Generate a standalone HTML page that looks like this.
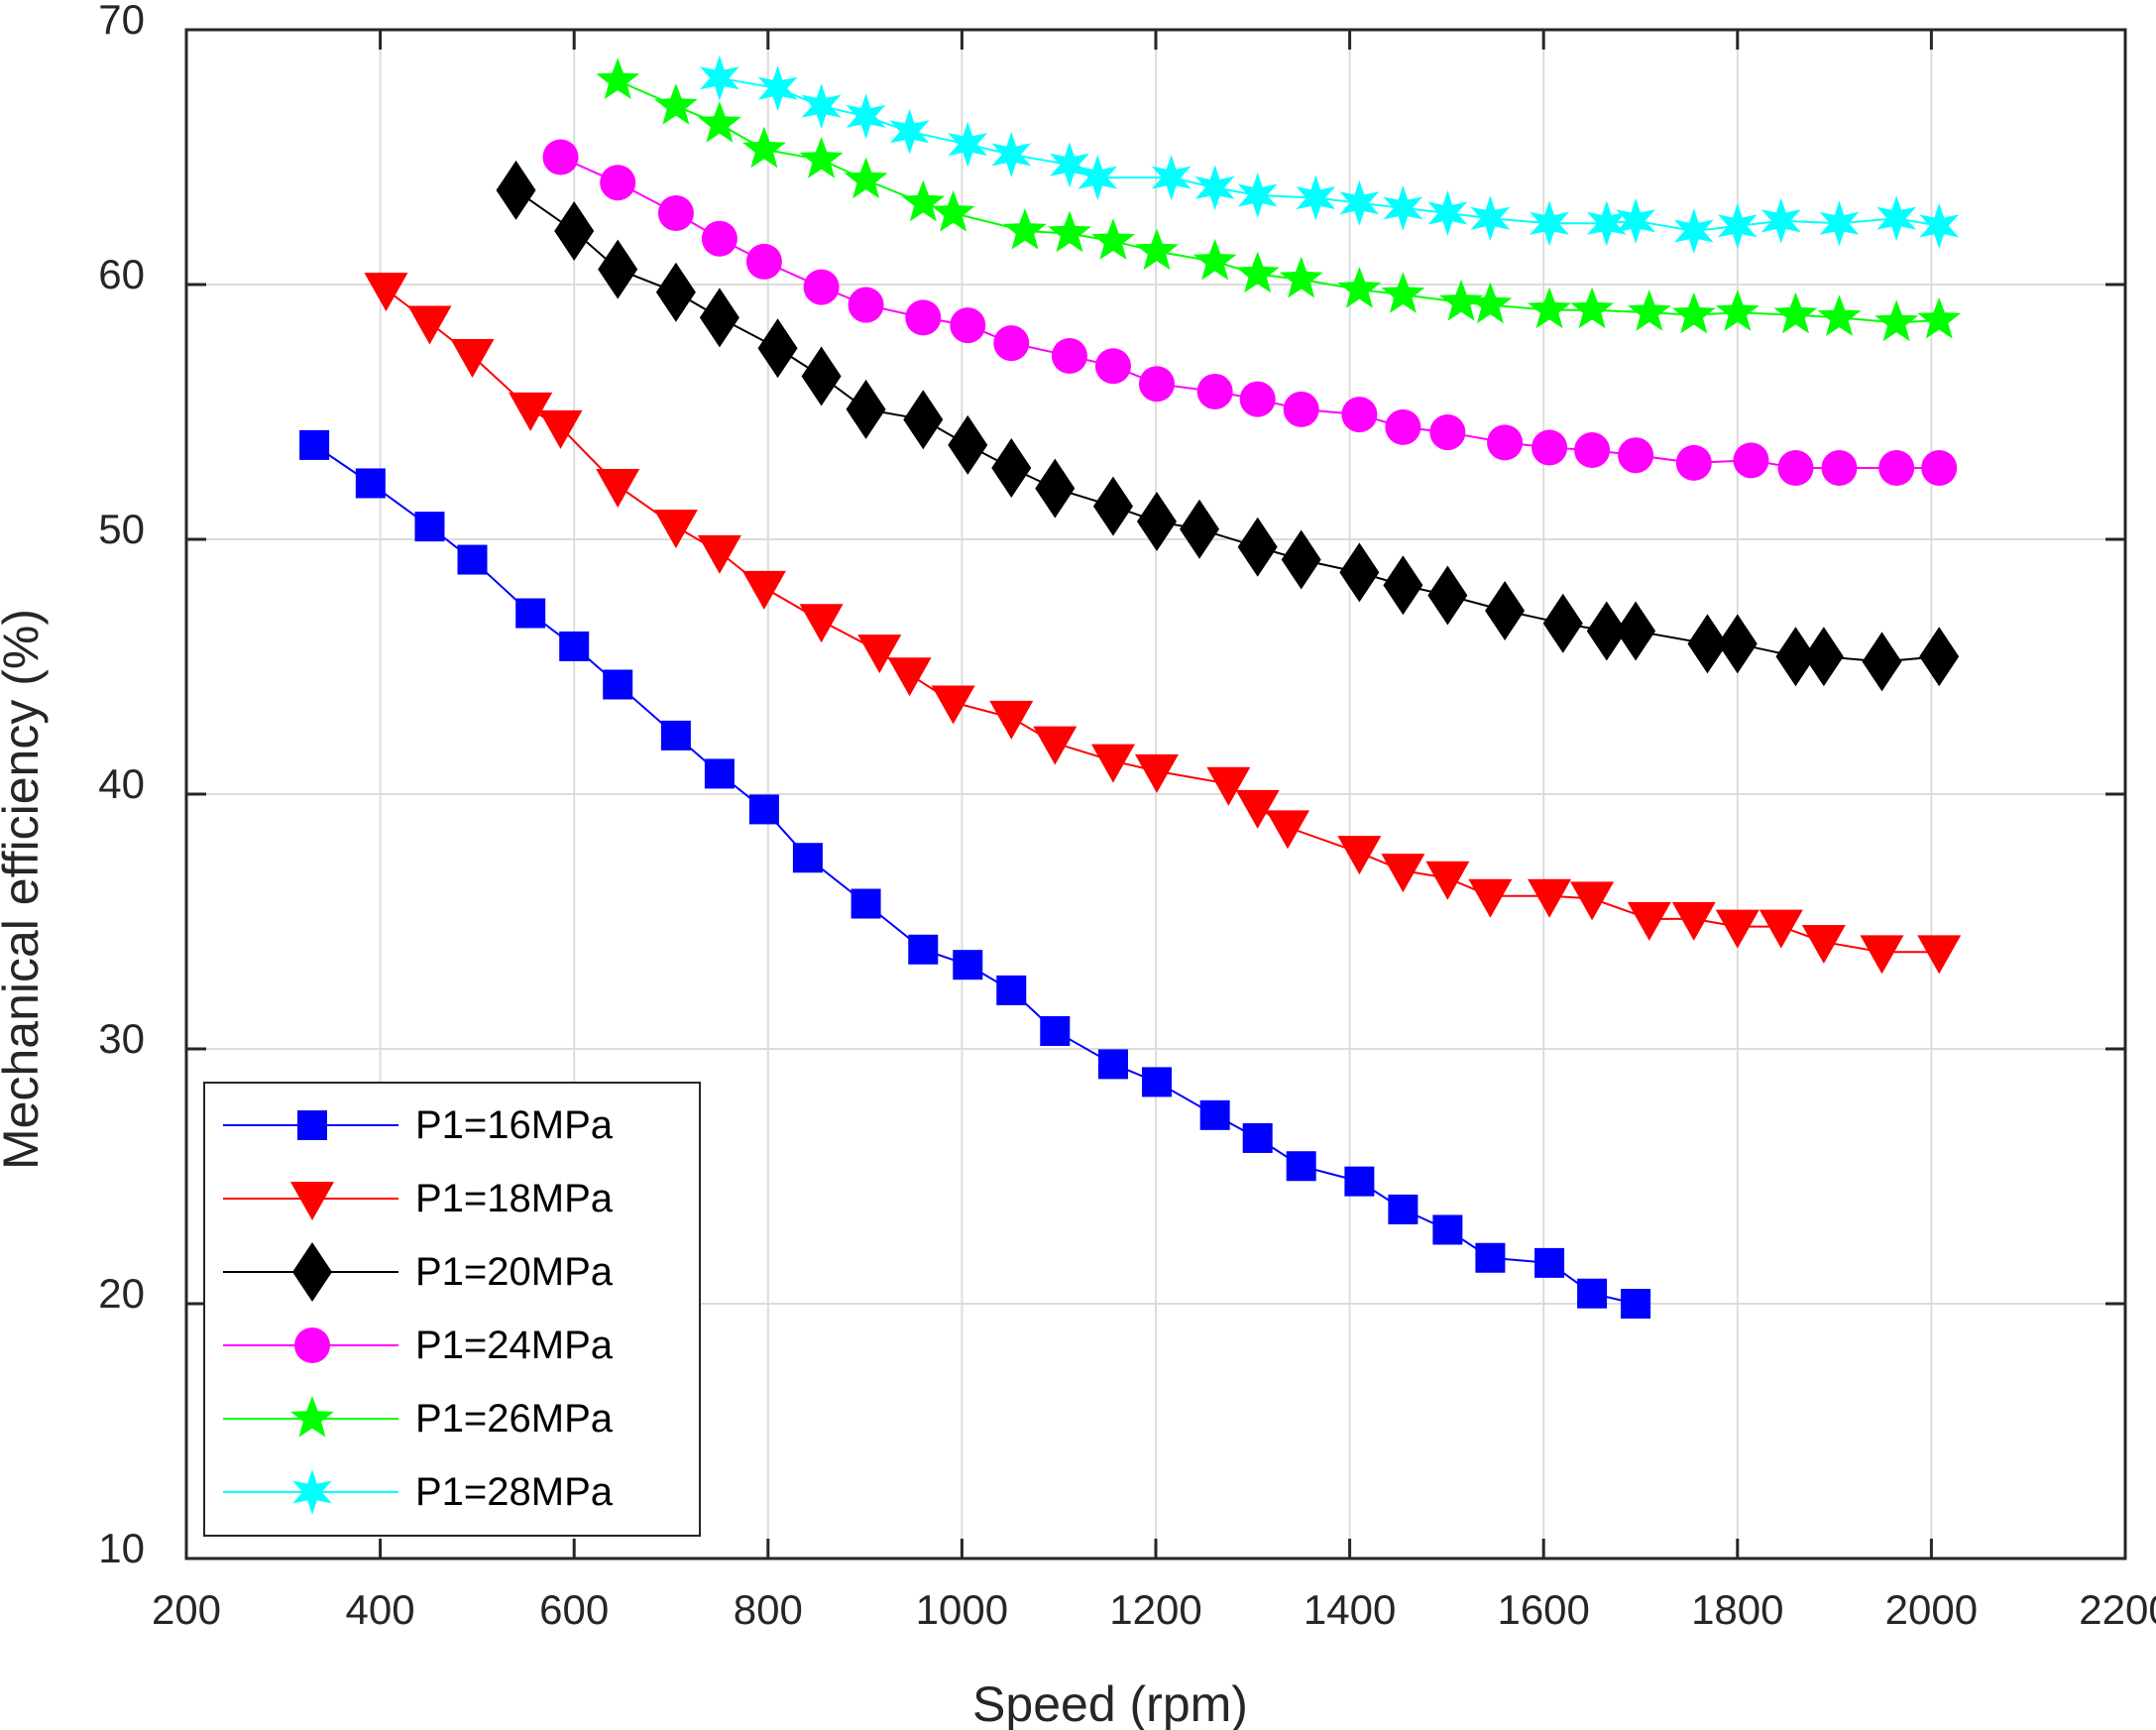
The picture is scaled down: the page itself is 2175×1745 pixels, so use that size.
<!DOCTYPE html>
<html><head><meta charset="utf-8"><style>
body{margin:0;background:#fff;}
svg{display:block;font-family:"Liberation Sans",Arial,sans-serif;}
</style></head><body>
<svg id="chart" width="2175" height="1745" xmlns="http://www.w3.org/2000/svg"></svg>
<script>
const xTicks=[200,400,600,800,1000,1200,1400,1600,1800,2000,2200];
const yTicks=[10,20,30,40,50,60,70];
const seriesNames=["P1=16MPa","P1=18MPa","P1=20MPa","P1=24MPa","P1=26MPa","P1=28MPa"];
const x16=[332,390,451,495,555,600,645,705,750,796,841,901,960,1006,1051,1096,1156,1201,1261,1305,1350,1410,1455,1501,1545,1606,1650,1695];
const y16=[53.7,52.2,50.5,49.2,47.1,45.8,44.3,42.3,40.8,39.4,37.5,35.7,33.9,33.3,32.3,30.7,29.4,28.7,27.4,26.5,25.4,24.8,23.7,22.9,21.8,21.6,20.4,20.0];
const x18=[406,451,495,555,586,645,705,750,796,855,915,946,991,1051,1096,1156,1201,1275,1305,1336,1410,1455,1501,1545,1606,1650,1709,1755,1800,1845,1889,1949,2008];
const y18=[59.8,58.5,57.2,55.1,54.4,52.1,50.5,49.5,48.1,46.8,45.6,44.7,43.6,43.0,42.0,41.3,40.9,40.4,39.5,38.7,37.7,37.0,36.7,36.0,36.0,35.9,35.1,35.1,34.8,34.8,34.2,33.8,33.8];
const x20=[540,600,645,705,750,810,855,901,960,1006,1051,1096,1156,1201,1245,1305,1350,1410,1455,1501,1560,1620,1665,1695,1769,1800,1860,1889,1949,2008];
const y20=[63.7,62.1,60.6,59.7,58.7,57.5,56.4,55.1,54.7,53.7,52.8,52.0,51.3,50.7,50.4,49.7,49.2,48.7,48.2,47.8,47.2,46.7,46.4,46.4,45.9,45.9,45.4,45.4,45.2,45.4];
const x24=[586,645,705,750,796,855,901,960,1006,1051,1111,1156,1201,1261,1305,1350,1410,1455,1501,1560,1606,1650,1695,1755,1814,1860,1905,1964,2008];
const y24=[65.0,64.0,62.8,61.8,60.9,59.9,59.2,58.7,58.4,57.7,57.2,56.8,56.1,55.8,55.5,55.1,54.9,54.4,54.2,53.8,53.6,53.5,53.3,53.0,53.1,52.8,52.8,52.8,52.8];
const x26=[645,705,750,796,855,901,960,991,1065,1111,1156,1201,1261,1305,1350,1410,1455,1515,1545,1606,1650,1709,1755,1800,1860,1905,1964,2008];
const y26=[68.0,67.0,66.3,65.3,64.9,64.1,63.2,62.8,62.1,62.0,61.7,61.3,60.9,60.4,60.2,59.8,59.6,59.3,59.2,59.0,59.0,58.9,58.8,58.9,58.8,58.7,58.5,58.6];
const x28=[750,810,855,901,946,1006,1051,1111,1140,1216,1261,1305,1365,1410,1455,1501,1545,1606,1665,1695,1755,1800,1845,1905,1964,2008];
const y28=[68.1,67.7,67.0,66.6,66.0,65.5,65.1,64.7,64.2,64.2,63.8,63.5,63.4,63.2,63.0,62.8,62.6,62.4,62.4,62.5,62.1,62.3,62.5,62.4,62.6,62.3];

const L=188,R=2144,T=30,B=1572;
const sx=v=>L+(v-200)/2000*(R-L);
const sy=v=>B-(v-10)/60*(B-T);
const NS="http://www.w3.org/2000/svg";
const svg=document.getElementById('chart');
function mk(tag,attrs,parent){const e=document.createElementNS(NS,tag);for(const k in attrs)e.setAttribute(k,attrs[k]);(parent||svg).appendChild(e);return e;}

xTicks.forEach(t=>{const l=mk('line',{x1:sx(t),x2:sx(t),y1:T,y2:B,stroke:'#dcdcdc','stroke-width':2});


const tx=mk('text',{x:sx(t),y:1638,'text-anchor':'middle','font-size':42,fill:'#262626'});tx.textContent=t;


mk('line',{x1:sx(t),x2:sx(t),y1:B,y2:B-20,stroke:'#262626','stroke-width':3});
mk('line',{x1:sx(t),x2:sx(t),y1:T,y2:T+20,stroke:'#262626','stroke-width':3});});
yTicks.forEach(t=>{const l=mk('line',{x1:L,x2:R,y1:sy(t),y2:sy(t),stroke:'#dcdcdc','stroke-width':2});


const tx=mk('text',{x:146,y:sy(t)+4,'text-anchor':'end','font-size':42,fill:'#262626'});tx.textContent=t;


mk('line',{x1:L,x2:L+20,y1:sy(t),y2:sy(t),stroke:'#262626','stroke-width':3});
mk('line',{x1:R,x2:R-20,y1:sy(t),y2:sy(t),stroke:'#262626','stroke-width':3});});
const frame=mk('rect',{x:L,y:T,width:R-L,height:B-T,fill:'none',stroke:'#262626','stroke-width':3});


const xt=mk('text',{x:1120,y:1736,'text-anchor':'middle','font-size':50,fill:'#262626'});xt.textContent='Speed (rpm)';


const yt=mk('text',{x:0,y:0,'text-anchor':'middle','font-size':50,fill:'#262626',transform:'translate(38,897) rotate(-90)'});yt.textContent='Mechanical efficiency (%)';



function star(cx,cy,r,n){let p=[];for(let i=0;i<2*n;i++){const a=-Math.PI/2+i*Math.PI/n;const rr=i%2?r*0.42:r;p.push((cx+rr*Math.cos(a)).toFixed(1)+','+(cy+rr*Math.sin(a)).toFixed(1));}return p.join(' ');}
function marker(type,cx,cy,col,g){
 if(type==='sq')return mk('rect',{x:cx-15,y:cy-15,width:30,height:30,fill:col},g);
 if(type==='tri')return mk('polygon',{points:`${cx-22},${cy-17} ${cx+22},${cy-17} ${cx},${cy+22}`,fill:col},g);
 if(type==='dia')return mk('polygon',{points:`${cx},${cy-30} ${cx+20},${cy} ${cx},${cy+30} ${cx-20},${cy}`,fill:col},g);
 if(type==='cir')return mk('circle',{cx:cx,cy:cy,r:18,fill:col},g);
 if(type==='st5')return mk('polygon',{points:star(cx,cy,23,5),fill:col},g);
 return mk('polygon',{points:star(cx,cy,23,6),fill:col},g);
}
const series=[[x16,y16,'#0000ff','sq'],[x18,y18,'#ff0000','tri'],[x20,y20,'#000000','dia'],[x24,y24,'#ff00ff','cir'],[x26,y26,'#00ff00','st5'],[x28,y28,'#00ffff','st6']];
series.forEach((s,i)=>{
 const g=mk('g',{});
 
 
 const pts=s[0].map((v,j)=>sx(v).toFixed(1)+','+sy(s[1][j]).toFixed(1)).join(' ');
 mk('polyline',{points:pts,fill:'none',stroke:s[2],'stroke-width':2},g);
 s[0].forEach((v,j)=>{const m=marker(s[3],sx(v),sy(s[1][j]),s[2],g);
 
 });
});
const lg=mk('g',{});


mk('rect',{x:206,y:1092,width:500,height:457,fill:'#fff',stroke:'#262626','stroke-width':2},lg);
const ly=[1135,1209,1283,1357,1431,1505];
series.forEach((s,i)=>{
 const e=mk('g',{},lg);
 
 
 mk('line',{x1:225,x2:402,y1:ly[i],y2:ly[i],stroke:s[2],'stroke-width':2},e);
 marker(s[3],315,ly[i],s[2],e);
 const t=mk('text',{x:419,y:ly[i]+13,'font-size':40,fill:'#000'},e);t.textContent=seriesNames[i];
});
</script>
</body></html>
